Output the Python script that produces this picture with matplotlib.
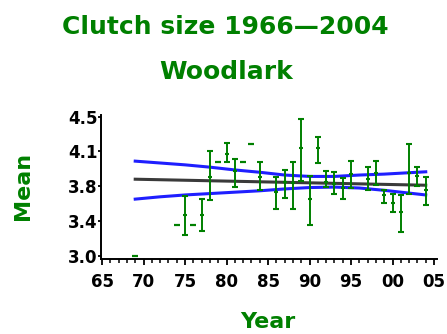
from matplotlib import pyplot as plt

# yearly clutch size: mean with upper / lower limits
years = [1975, 1977, 1978, 1980, 1981, 1984, 1986, 1987, 1988, 1989, 1990,
         1991, 1992, 1993, 1994, 1995, 1997, 1998, 1999, 2000, 2001, 2002,
         2003, 2004]
means = [3.44, 3.44, 3.85, 4.10, 3.91, 3.85, 3.69, 3.79, 3.78, 4.16, 3.61,
         4.16, 3.80, 3.77, 3.73, 3.88, 3.83, 3.89, 3.65, 3.57, 3.47, 3.89,
         3.86, 3.71]
upper = [3.64, 3.61, 4.13, 4.22, 4.04, 4.01, 3.85, 3.92, 4.01, 4.48, 3.86,
         4.28, 3.91, 3.90, 3.835, 4.02, 3.96, 4.02, 3.71, 3.67, 3.65, 4.20,
         3.96, 3.85]
lower = [3.22, 3.27, 3.60, 4.01, 3.74, 3.71, 3.50, 3.62, 3.50, 3.81, 3.33,
         4.00, 3.74, 3.66, 3.61, 3.73, 3.71, 3.76, 3.57, 3.47, 3.25, 3.66,
         3.75, 3.55]

# years with a single nest only
single_years = [1969, 1974, 1976, 1979, 1982, 1983]
single_values = [3.00, 3.33, 3.33, 4.01, 4.01, 4.20]

# linear trend and its confidence band
trend_years = [1969, 2004]
trend_values = [3.825, 3.76]
band_years = [1969, 1972, 1975, 1978, 1981, 1984, 1987, 1990, 1993, 1996,
              1999, 2002, 2004]
band_upper = [4.02, 4.00, 3.98, 3.955, 3.925, 3.90, 3.87, 3.855, 3.855,
              3.87, 3.88, 3.895, 3.905]
band_lower = [3.61, 3.635, 3.655, 3.67, 3.685, 3.70, 3.72, 3.735, 3.74,
              3.73, 3.705, 3.675, 3.655]

green = '#008000'
blue = '#1f1fff'

fig = plt.figure(figsize=(4.47, 3.34), dpi=100)
ax = fig.add_axes([0.226, 0.2246, 0.7517, 0.4311])

ax.plot(band_years, band_upper, color=blue, lw=2.2)
ax.plot(band_years, band_lower, color=blue, lw=2.2)
ax.plot(trend_years, trend_values, color='#3a3a3a', lw=2.2)

err_lo = [m - l for m, l in zip(means, lower)]
err_hi = [u - m for m, u in zip(means, upper)]
ax.errorbar(years, means, yerr=[err_lo, err_hi], fmt='_', color=green,
            ms=3.5, mew=1.5, ecolor=green, elinewidth=1.4, capsize=2.4,
            capthick=1.4)
ax.plot(single_years, single_values, '_', color=green, ms=4.5, mew=1.6)

ax.set_xlim(1964.88, 2005.36)
ax.set_ylim(2.964, 4.518)

ax.set_xticks(range(1965, 2006, 5))
ax.set_xticklabels(['65', '70', '75', '80', '85', '90', '95', '00', '05'])
ax.set_xticks(range(1965, 2006), minor=True)
ax.set_yticks([3.0, 3.375, 3.75, 4.125, 4.5])
ax.set_yticklabels(['3.0', '3.4', '3.8', '4.1', '4.5'])

for lab in ax.get_xticklabels() + ax.get_yticklabels():
    lab.set_fontweight('bold')
    lab.set_fontsize(12)

ax.tick_params(axis='x', which='major', length=4.3, width=1.3, pad=6)
ax.tick_params(axis='x', which='minor', length=2.8, width=1.1)
ax.tick_params(axis='y', which='major', length=2.2, width=1.3, pad=0.5)

for side in ['top', 'right']:
    ax.spines[side].set_visible(False)
for side in ['left', 'bottom']:
    ax.spines[side].set_linewidth(1.4)

fig.text(0.503, 0.919, 'Clutch size 1966\u20142004', color=green,
         fontsize=18, fontweight='bold', ha='center', va='center')
fig.text(0.505, 0.784, 'Woodlark', color=green, fontsize=18,
         fontweight='bold', ha='center', va='center')
fig.text(0.051, 0.443, 'Mean', color=green, fontsize=16, fontweight='bold',
         rotation=90, ha='center', va='center')
fig.text(0.6, 0.036, 'Year', color=green, fontsize=16, fontweight='bold',
         ha='center', va='center')

plt.savefig('out.png', dpi=100)
